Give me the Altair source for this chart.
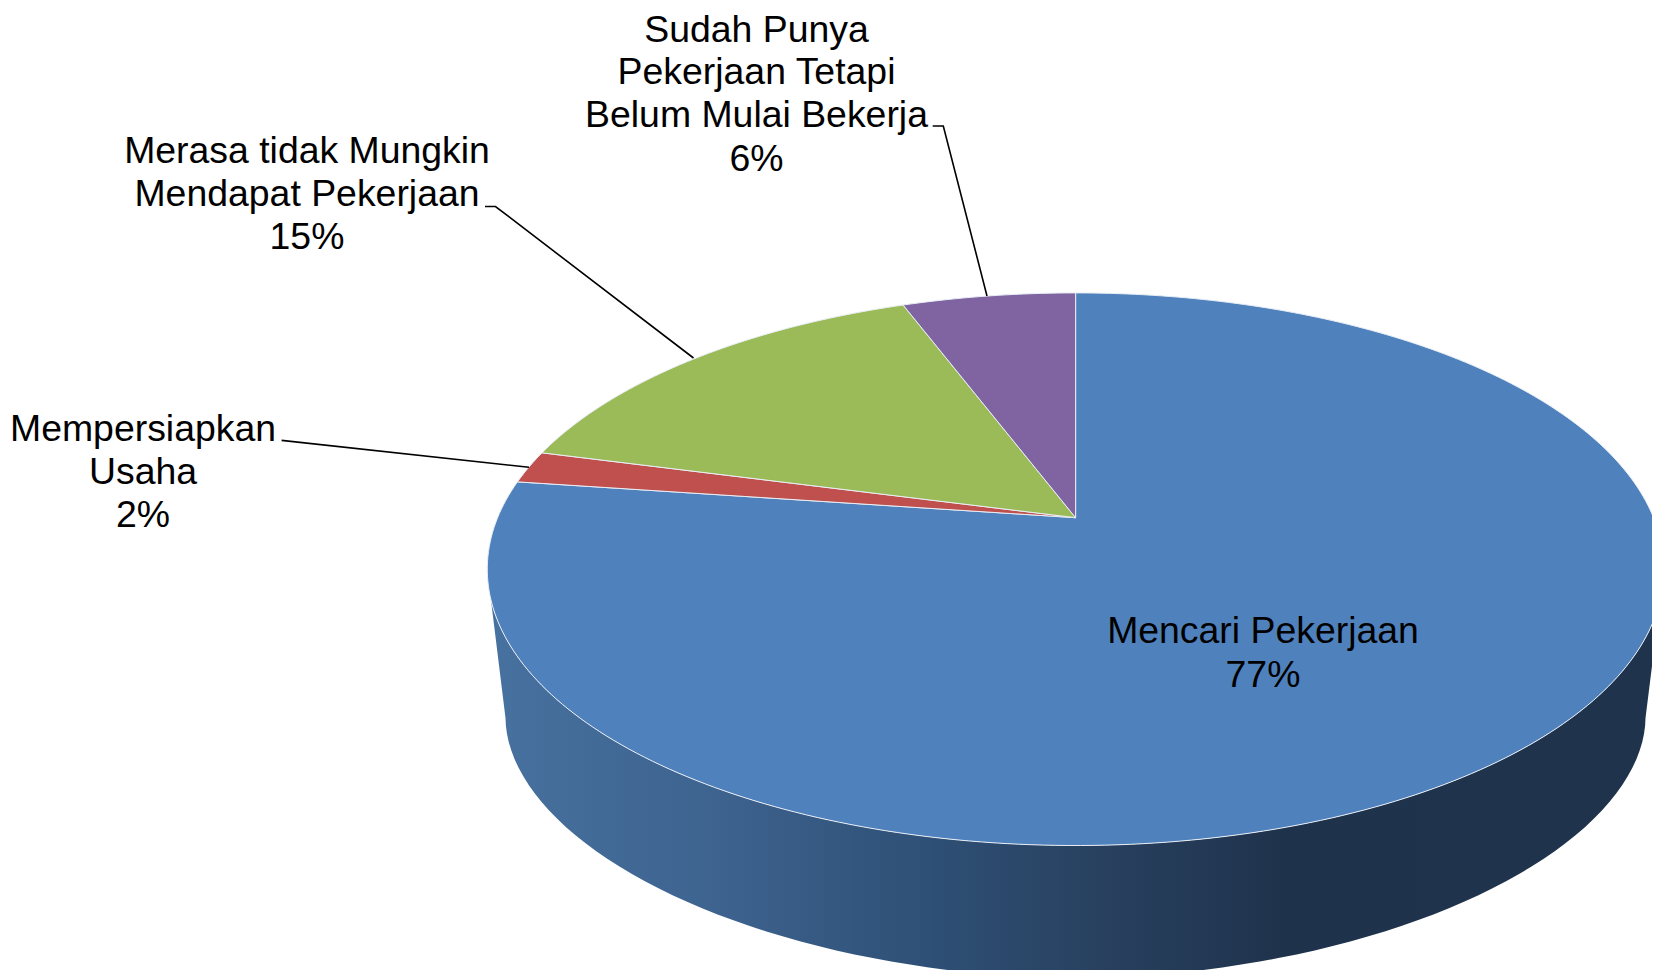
import math
import altair as alt
import pandas as pd

# --- chart values ---
categories = ["Mencari Pekerjaan", "Mempersiapkan Usaha", "Merasa tidak Mungkin Mendapat Pekerjaan", "Sudah Punya Pekerjaan Tetapi Belum Mulai Bekerja"]
shares = [77.2, 1.9, 15.2, 5.7]
slice_colors = ["#4F81BD", "#C0504D", "#9BBB59", "#8064A2"]

label_lines = [
    "Mencari Pekerjaan", "77%",
    "Mempersiapkan", "Usaha", "2%",
    "Merasa tidak Mungkin", "Mendapat Pekerjaan", "15%",
    "Sudah Punya", "Pekerjaan Tetapi", "Belum Mulai Bekerja", "6%",
]
label_x = [1263, 1263, 143, 143, 143, 307, 307, 307, 756.5, 756.5, 756.5, 756.5]
label_y = [643, 687, 441, 484, 527, 163, 206, 249, 42, 84, 127, 171]

leader_id = [0, 0, 1, 1, 1, 2, 2, 2]
leader_x = [281.6, 529, 485, 495.5, 693.5, 932.7, 943.3, 987]
leader_y = [440.4, 467.3, 206.5, 206.5, 358, 126, 126, 296]

# --- page and perspective geometry of the pie ---
W, H = 1652, 970
apex_x, apex_y = 1075.6, 517.7
persp_a, persp_b, persp_k = 578.0, 266.7, 0.1864
low_cx, low_cy, low_a, low_b, low_n = 1075.5, 718.0, 570.0, 260.0, 1.9


def project(deg):
    t = math.radians(deg)
    d = 1 + persp_k * math.sin(t)
    return apex_x + persp_a * math.cos(t) / d, apex_y - persp_b * math.sin(t) / d


def slice_table(start_share, share):
    a0 = 90 - start_share * 3.6
    a1 = 90 - (start_share + share) * 3.6
    n = max(2, int(abs(a1 - a0)))
    pts = [(apex_x, apex_y)]
    pts += [project(a0 + (a1 - a0) * i / n) for i in range(n + 1)]
    pts.append((apex_x, apex_y))
    return pd.DataFrame({"px": [p[0] for p in pts], "py": [p[1] for p in pts], "i": range(len(pts))})


def wall_table():
    pts = [project(a) for a in range(197, 344)]
    for d in range(0, 181, 2):
        t = math.radians(d)
        c, s = math.cos(t), math.sin(t)
        x = low_cx + low_a * math.copysign(abs(c) ** (2 / low_n), c)
        y = low_cy + low_b * abs(s) ** (2 / low_n)
        pts.append((x, y))
    pts.append(pts[0])
    return pd.DataFrame({"px": [p[0] for p in pts], "py": [p[1] for p in pts], "i": range(len(pts))})


x_enc = alt.X("px:Q", axis=None, scale=alt.Scale(domain=[8, W], range=[0, W - 8], nice=False, zero=False))
y_enc = alt.Y("py:Q", axis=None, scale=alt.Scale(domain=[8, H], range=[0, H - 8], nice=False, zero=False))

wall_gradient = alt.Gradient(
    gradient="linear", x1=0, x2=1, y1=0, y2=0,
    stops=[
        alt.GradientStop(offset=0.0, color="#47719F"),
        alt.GradientStop(offset=0.18, color="#3E6490"),
        alt.GradientStop(offset=0.38, color="#2E4F75"),
        alt.GradientStop(offset=0.52, color="#28415F"),
        alt.GradientStop(offset=0.68, color="#1F324C"),
        alt.GradientStop(offset=1.0, color="#1F344C"),
    ],
)

layers = [
    alt.Chart(wall_table()).mark_line(fill=wall_gradient, strokeWidth=0, clip=True, interpolate="linear").encode(
        x=x_enc, y=y_enc, order="i:Q"
    )
]

start = 0
for share, color in zip(shares, slice_colors):
    layers.append(
        alt.Chart(slice_table(start, share)).mark_line(
            fill=color, stroke="#e9eef5", strokeWidth=1, clip=True, interpolate="linear", strokeJoin="round"
        ).encode(x=x_enc, y=y_enc, order="i:Q")
    )
    start += share

leaders = pd.DataFrame({"id": leader_id, "px": leader_x, "py": leader_y, "i": range(len(leader_x))})
layers.append(
    alt.Chart(leaders).mark_line(color="#000000", strokeWidth=1.6).encode(
        x=x_enc, y=y_enc, detail="id:N", order="i:Q"
    )
)

labels = pd.DataFrame({"txt": label_lines, "px": label_x, "py": label_y})
layers.append(
    alt.Chart(labels).mark_text(
        font="Liberation Sans", fontSize=37.4, color="#000000", align="center", baseline="alphabetic"
    ).encode(x=x_enc, y=y_enc, text="txt:N")
)

chart = alt.layer(*layers).properties(
    width=W - 8, height=H - 8, padding=0,
    autosize=alt.AutoSizeParams(type="none", contains="padding"),
).configure_view(stroke=None)

chart.save("out.html", embed_options={"renderer": "svg", "actions": False})
